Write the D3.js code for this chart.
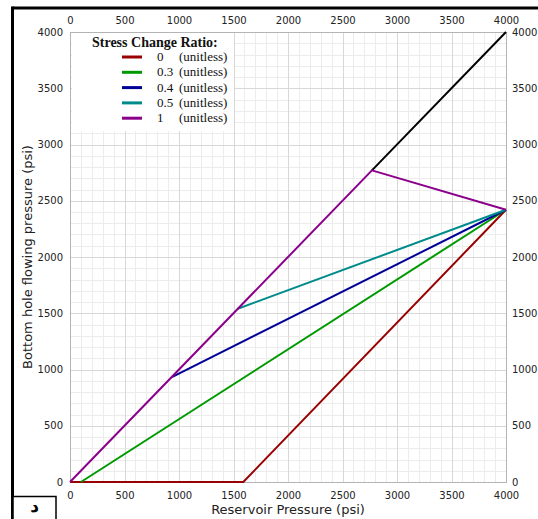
<!DOCTYPE html>
<html>
<head>
<meta charset="utf-8">
<script src="https://cdn.jsdelivr.net/npm/d3@7"></script>
<style>
  html, body { margin: 0; padding: 0; background: #fff; }
  svg { display: block; }
  .tick-label { font-family: "DejaVu Sans", Verdana, sans-serif; font-size: 10px; fill: #222; }
  .axis-title { font-family: "DejaVu Sans", Verdana, sans-serif; font-size: 13px; fill: #222; }
  .legend-title { font-family: "Liberation Serif", "Times New Roman", serif; font-size: 14px; font-weight: bold; fill: #111; }
  .legend-text { font-family: "Liberation Serif", "Times New Roman", serif; font-size: 13px; fill: #111; }
</style>
</head>
<body>
<svg id="chart" width="538" height="519"></svg>
<script>
// Reservoir pressure vs. bottom hole flowing pressure, by stress change ratio
const ratioLabels = ["0", "0.3", "0.4", "0.5", "1"];
const unitLabel = "(unitless)";
const legendTitle = "Stress Change Ratio:";

// [reservoir pressure, bottom hole flowing pressure] in psi
const ratio0   = [[0, 0], [1590, 0], [4000, 2420]];
const ratio03  = [[100, 0], [4000, 2420]];
const ratio04  = [[930, 930], [4000, 2420]];
const ratio05  = [[1540, 1540], [4000, 2420]];
const ratio1   = [[0, 0], [2770, 2770], [4000, 2420]];
const equalityLine = [[2770, 2770], [4000, 4000]];

const majorTicks = [0, 500, 1000, 1500, 2000, 2500, 3000, 3500, 4000];
const minorStep = 100;
const axisMax = 4000;

const xTitle = "Reservoir Pressure (psi)";
const yTitle = "Bottom hole flowing pressure (psi)";
const cornerLabel = "د";

const seriesColors = ["#990000", "#009900", "#000099", "#008b8b", "#8b008b"];

const svg = d3.select("#chart");
const plot = { left: 70, right: 506, top: 32, bottom: 482 };

const x = d3.scaleLinear().domain([0, axisMax]).range([plot.left, plot.right]);
const y = d3.scaleLinear().domain([0, axisMax]).range([plot.bottom, plot.top]);

// Outer frame: heavy rules along the top and left edge
svg.append("line").attr("x1", 12.5).attr("x2", 538).attr("y1", 8).attr("y2", 8)
  .attr("stroke", "#000").attr("stroke-width", 3);
svg.append("line").attr("x1", 12.5).attr("x2", 12.5).attr("y1", 6.5).attr("y2", 519)
  .attr("stroke", "#000").attr("stroke-width", 3);

// Corner label box
svg.append("rect").attr("x", 13).attr("y", 496.5).attr("width", 43).attr("height", 30)
  .attr("fill", "#fff").attr("stroke", "#000").attr("stroke-width", 1.5);
svg.append("text").attr("x", 34.5).attr("y", 512)
  .attr("text-anchor", "middle")
  .style("font-family", "'DejaVu Sans', sans-serif").style("font-size", "17px").style("font-weight", "bold")
  .text(cornerLabel);

// Grid
const minorTicks = d3.range(0, axisMax + 1, minorStep).filter(v => !majorTicks.includes(v));
const grid = svg.append("g");
grid.selectAll(".vminor").data(minorTicks).join("line")
  .attr("x1", d => Math.round(x(d)) + 0.5).attr("x2", d => Math.round(x(d)) + 0.5)
  .attr("y1", plot.top).attr("y2", plot.bottom)
  .attr("stroke", "#ececec").attr("stroke-width", 1);
grid.selectAll(".hminor").data(minorTicks).join("line")
  .attr("y1", d => Math.round(y(d)) + 0.5).attr("y2", d => Math.round(y(d)) + 0.5)
  .attr("x1", plot.left).attr("x2", plot.right)
  .attr("stroke", "#ececec").attr("stroke-width", 1);
grid.selectAll(".vmajor").data(majorTicks).join("line")
  .attr("x1", d => Math.round(x(d)) + 0.5).attr("x2", d => Math.round(x(d)) + 0.5)
  .attr("y1", plot.top).attr("y2", plot.bottom)
  .attr("stroke", "#d8d8d8").attr("stroke-width", 1);
grid.selectAll(".hmajor").data(majorTicks).join("line")
  .attr("y1", d => Math.round(y(d)) + 0.5).attr("y2", d => Math.round(y(d)) + 0.5)
  .attr("x1", plot.left).attr("x2", plot.right)
  .attr("stroke", "#d8d8d8").attr("stroke-width", 1);

// Plot border
svg.append("rect")
  .attr("x", plot.left + 0.5).attr("y", plot.top + 0.5)
  .attr("width", plot.right - plot.left).attr("height", plot.bottom - plot.top)
  .attr("fill", "none").attr("stroke", "#b4b4b4").attr("stroke-width", 1);

// Axes (labels only; tick marks hidden)
function styleAxis(g) {
  g.select(".domain").remove();
  g.selectAll(".tick line").remove();
  g.selectAll(".tick text").attr("class", "tick-label").attr("fill", null);
}
svg.append("g").attr("transform", `translate(0,${plot.bottom})`)
  .call(d3.axisBottom(x).tickValues(majorTicks).tickFormat(d3.format("d")).tickSize(0).tickPadding(10))
  .call(styleAxis);
svg.append("g").attr("transform", `translate(0,${plot.top})`)
  .call(d3.axisTop(x).tickValues(majorTicks).tickFormat(d3.format("d")).tickSize(0).tickPadding(8))
  .call(styleAxis);
svg.append("g").attr("transform", `translate(${plot.left},0)`)
  .call(d3.axisLeft(y).tickValues(majorTicks).tickFormat(d3.format("d")).tickSize(0).tickPadding(7))
  .call(styleAxis);
svg.append("g").attr("transform", `translate(${plot.right},0)`)
  .call(d3.axisRight(y).tickValues(majorTicks).tickFormat(d3.format("d")).tickSize(0).tickPadding(6))
  .call(styleAxis);

// Axis titles
svg.append("text").attr("class", "axis-title")
  .attr("x", (plot.left + plot.right) / 2).attr("y", 514)
  .attr("text-anchor", "middle").text(xTitle);
svg.append("text").attr("class", "axis-title")
  .attr("transform", `translate(32,${(plot.top + plot.bottom) / 2}) rotate(-90)`)
  .attr("text-anchor", "middle").text(yTitle);

// Lines
const line = d3.line().x(d => x(d[0])).y(d => y(d[1]));
const lines = svg.append("g").attr("fill", "none").attr("stroke-width", 2)
  .attr("stroke-linejoin", "round");
lines.append("path").datum(equalityLine).attr("d", line).attr("stroke", "#000");
const seriesList = [ratio0, ratio03, ratio04, ratio05, ratio1];
seriesList.forEach((s, i) => {
  lines.append("path").datum(s).attr("d", line).attr("stroke", seriesColors[i]);
});

// Legend
const legend = svg.append("g");
legend.append("rect").attr("x", 72).attr("y", 33).attr("width", 162).attr("height", 98).attr("fill", "#fff");
legend.append("text").attr("class", "legend-title").attr("x", 92).attr("y", 47).text(legendTitle);
ratioLabels.forEach((lab, i) => {
  const cy = 57 + i * 15.3;
  legend.append("line").attr("x1", 122).attr("x2", 142).attr("y1", cy).attr("y2", cy)
    .attr("stroke", seriesColors[i]).attr("stroke-width", 3);
  legend.append("text").attr("class", "legend-text").attr("x", 157).attr("y", cy + 4).text(lab);
  legend.append("text").attr("class", "legend-text").attr("x", 179).attr("y", cy + 4).text(unitLabel);
});
</script>
</body>
</html>
